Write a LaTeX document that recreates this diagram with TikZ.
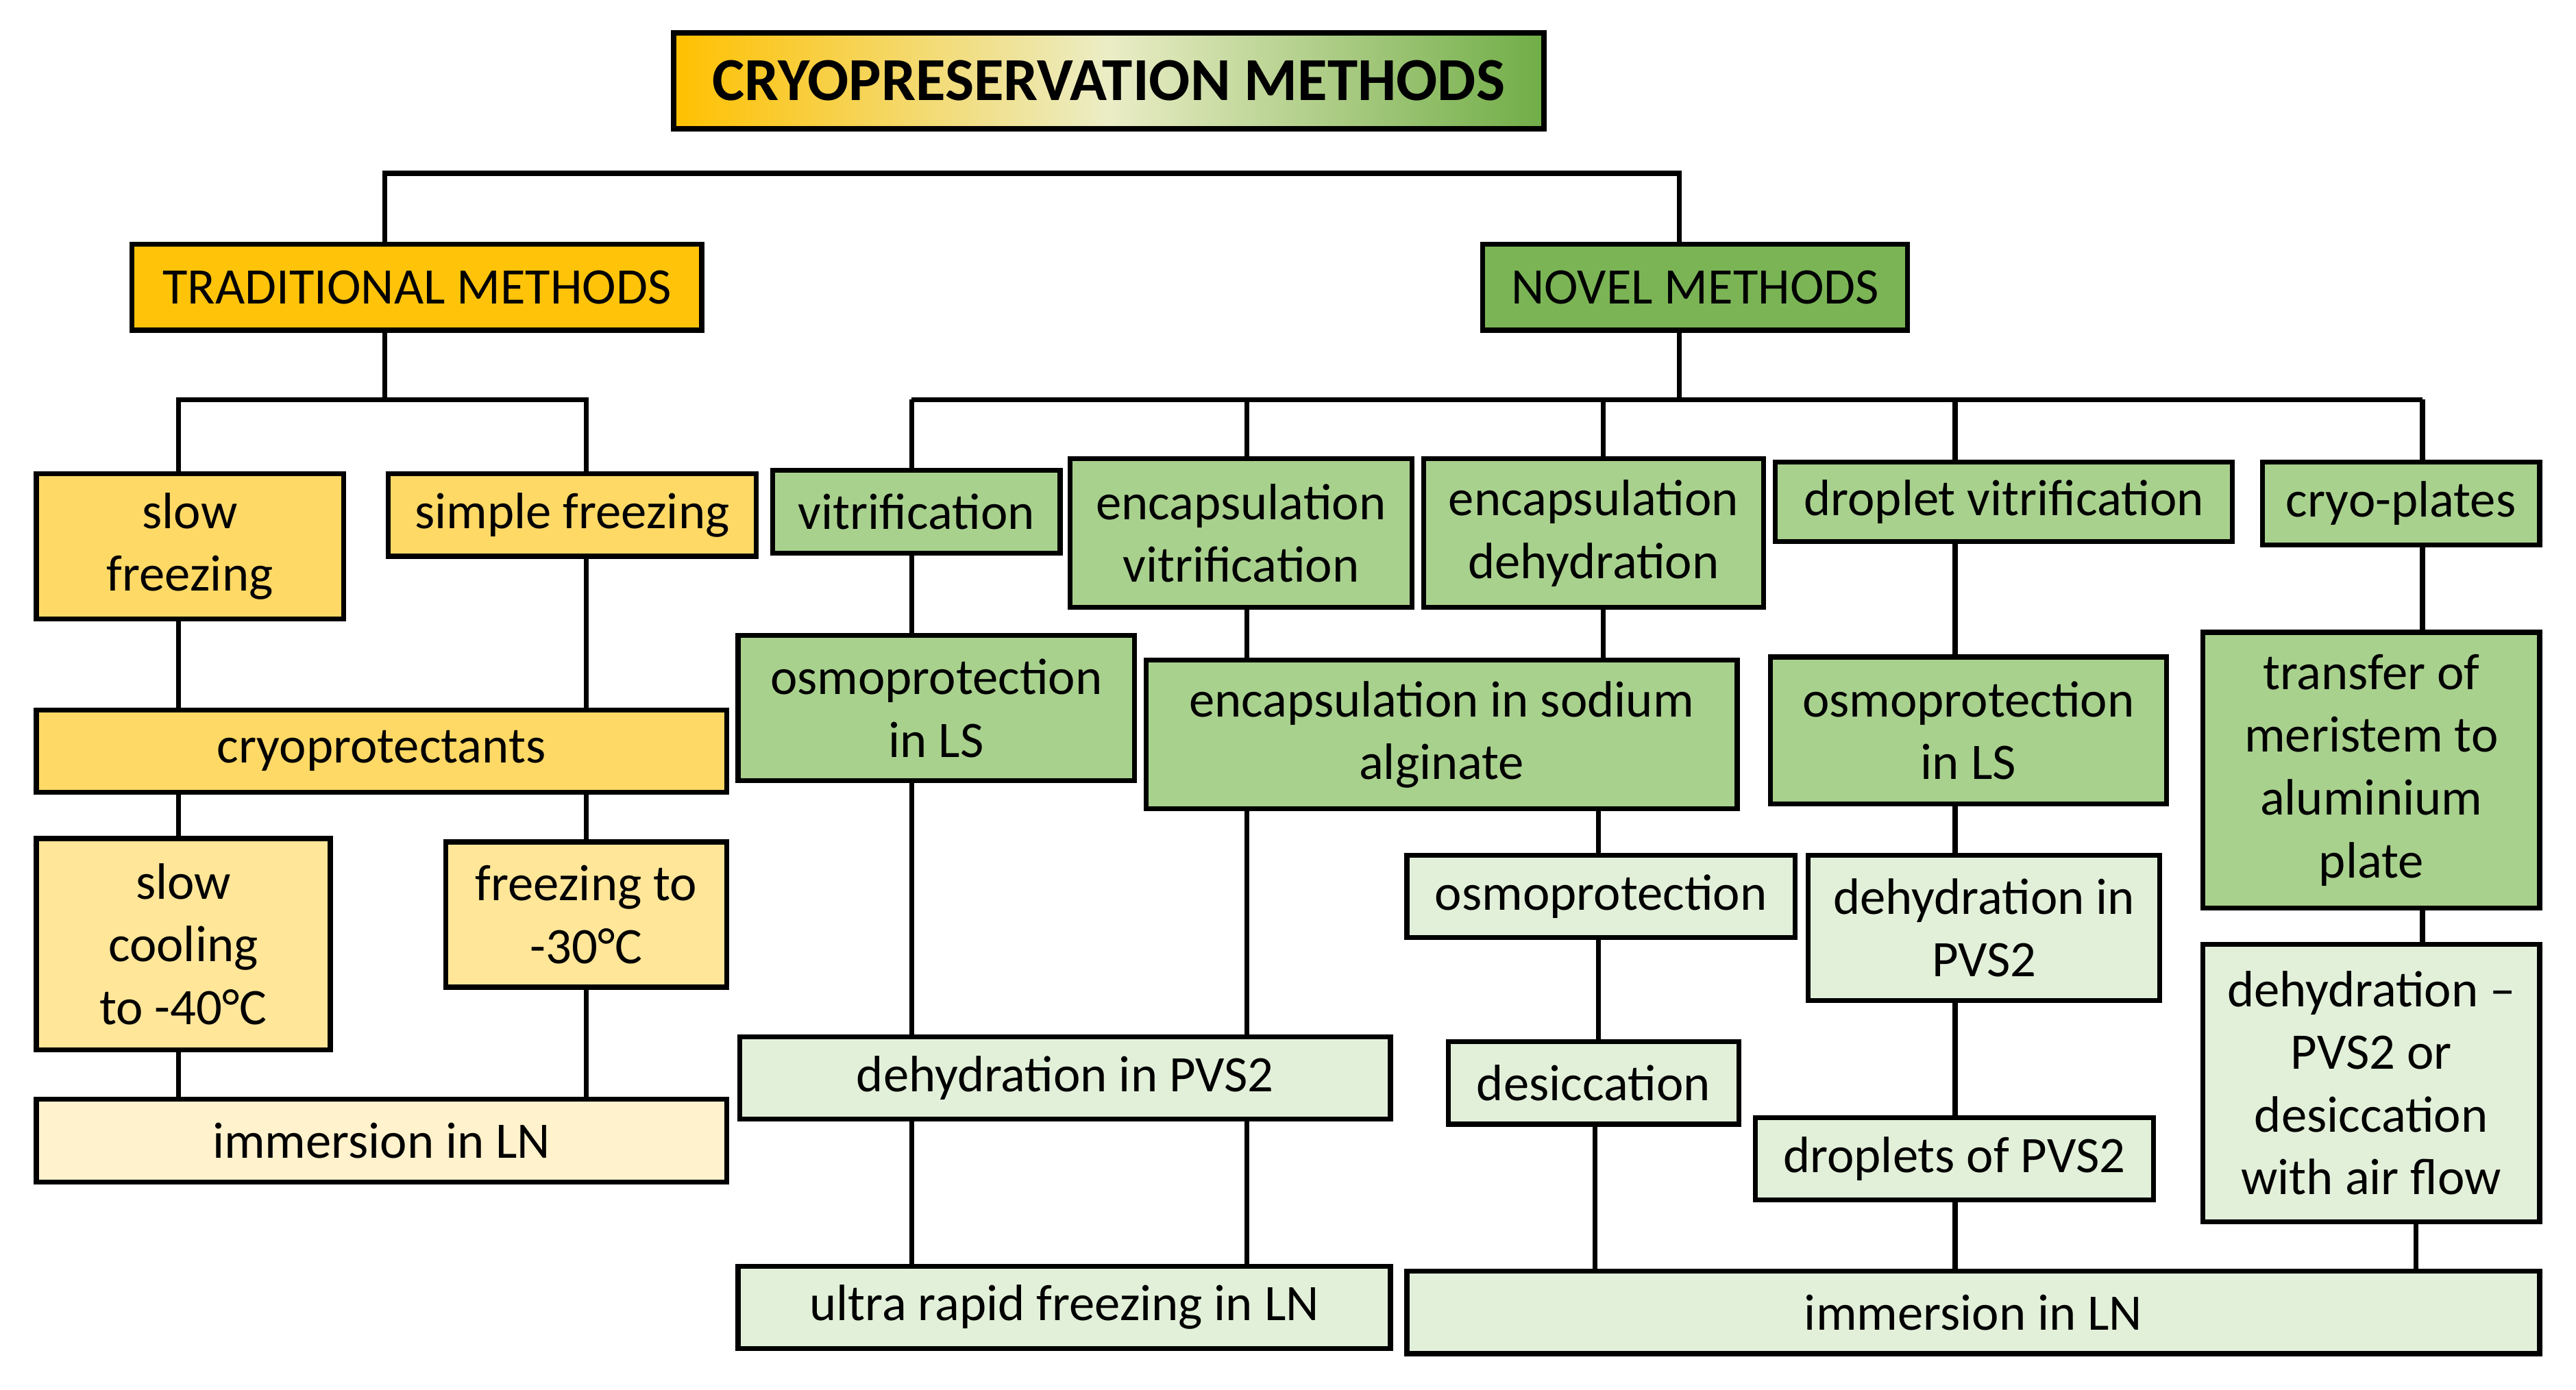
\documentclass[tikz,border=0pt]{standalone}
\usepackage{fontspec}
\setmainfont{Carlito}
\usetikzlibrary{backgrounds}
\definecolor{org}{HTML}{FFC000}
\definecolor{orgA}{HTML}{FFD966}
\definecolor{orgB}{HTML}{FFE699}
\definecolor{orgC}{HTML}{FFF2CC}
\definecolor{grn}{HTML}{70AD47}
\definecolor{grnA}{HTML}{A9D18E}
\definecolor{grnB}{HTML}{E2F0D9}
\tikzset{
 box/.style={draw=black,line width=3pt,inner sep=0pt,align=center,font=\fontsize{31}{38}\selectfont,text=black},
 ln/.style={line width=3pt},
}
\newcommand{\bx}[7]{\node[box,fill=#6,minimum width=#4pt-#2pt,minimum height=#5pt-#3pt] (#1) at ({(#2+#4)/2},{(#3+#5)/2}) {#7};}
\begin{document}
\begin{tikzpicture}[x=1pt,y=-1pt]
\useasboundingbox (0,0) rectangle (1560,842);
\node[draw=black,line width=3.5pt,minimum width=527pt,minimum height=58pt,inner sep=0pt,left color=org,right color=grn,middle color=grnB!70!orgB,font=\fontsize{37}{40}\selectfont\bfseries] (title) at (671.5,49) {CRYOPRESERVATION METHODS};
\bx{trad}{80}{148}{425}{200}{org!90!orgA}{TRADITIONAL METHODS}
\bx{novel}{898}{148}{1155}{200}{grn!80!grnA}{NOVEL METHODS}
\bx{slow}{22}{287}{208}{375}{orgA}{slow\\freezing}
\bx{simple}{235}{287}{458}{337}{orgA}{simple freezing}
\bx{cryo}{22}{430}{440}{480}{orgA}{cryoprotectants}
\bx{cool}{22}{508}{200}{636}{orgB}{slow\\cooling\\to -40°C}
\bx{f30}{270}{510}{440}{598}{orgB}{freezing to\\-30°C}
\bx{immT}{22}{666}{440}{716}{orgC}{immersion in LN}
\bx{vit}{468}{285}{642}{335}{grnA}{vitrification}
\bx{ev}{648}{278}{855}{368}{grnA}{encapsulation\\vitrification}
\bx{ed}{862}{278}{1068}{368}{grnA}{encapsulation\\dehydration}
\bx{dv}{1075}{280}{1352}{328}{grnA}{droplet vitrification}
\bx{cp}{1370}{280}{1538}{330}{grnA}{cryo-plates}
\bx{osLS}{447}{385}{687}{473}{grnA}{osmoprotection\\in LS}
\bx{alg}{694}{400}{1052}{490}{grnA}{encapsulation in sodium\\alginate}
\bx{osLS2}{1072}{398}{1312}{487}{grnA}{osmoprotection\\in LS}
\bx{tr}{1334}{383}{1538}{550}{grnA}{transfer of\\meristem to\\aluminium\\plate}
\bx{os}{852}{518}{1087}{568}{grnB}{osmoprotection}
\bx{dP2}{1095}{518}{1308}{606}{grnB}{dehydration in\\PVS2}
\bx{dP}{448}{628}{842}{678}{grnB}{dehydration in PVS2}
\bx{des}{877}{631}{1053}{681}{grnB}{desiccation}
\bx{drop}{1063}{677}{1304}{727}{grnB}{droplets of PVS2}
\bx{dd}{1334}{572}{1538}{740}{grnB}{dehydration –\\PVS2 or\\desiccation\\with air flow}
\bx{urf}{447}{767}{842}{817}{grnB}{ultra rapid freezing in LN}
\bx{immN}{852}{770}{1538}{820}{grnB}{immersion in LN}
\begin{scope}[on background layer]
\coordinate (A) at (233,105); \coordinate (B) at (1017,105);
\draw[ln] (trad.north -| A) -- (A) -- (B) -- (novel.north -| B);
\coordinate (t1) at (108,242); \coordinate (t2) at (355,242);
\draw[ln] (trad.south -| A) -- (A |- t1);
\draw[ln] (slow.north -| t1) -- (t1) -- (t2) -- (simple.north -| t2);
\draw[ln] (slow.south -| t1) -- (cool.north -| t1);
\draw[ln] (cool.south -| t1) -- (immT.north -| t1);
\draw[ln] (simple.south -| t2) -- (f30.north -| t2);
\draw[ln] (f30.south -| t2) -- (immT.north -| t2);
\coordinate (n1) at (552,242); \coordinate (n2) at (755,242); \coordinate (n3) at (971,242);
\coordinate (n4) at (1184,242); \coordinate (n5) at (1467,242);
\draw[ln] (novel.south -| B) -- (B |- n1);
\draw[ln] (n1) -- (n5);
\draw[ln] (n1) -- (urf.north -| n1);
\draw[ln] (n2) -- (urf.north -| n2);
\draw[ln] (n3) -- (alg.north -| n3);
\coordinate (n3b) at (968,0); \coordinate (n3c) at (966,0);
\draw[ln] (alg.south -| n3b) -- (os.north -| n3b);
\draw[ln] (os.south -| n3b) -- (des.north -| n3b);
\draw[ln] (des.south -| n3c) -- (immN.north -| n3c);
\draw[ln] (n4) -- (immN.north -| n4);
\coordinate (n5b) at (1463,0);
\draw[ln] (n5) -- (tr.north -| n5);
\draw[ln] (tr.south -| n5) -- (dd.north -| n5);
\draw[ln] (dd.south -| n5b) -- (immN.north -| n5b);
\end{scope}
\end{tikzpicture}
\end{document}
